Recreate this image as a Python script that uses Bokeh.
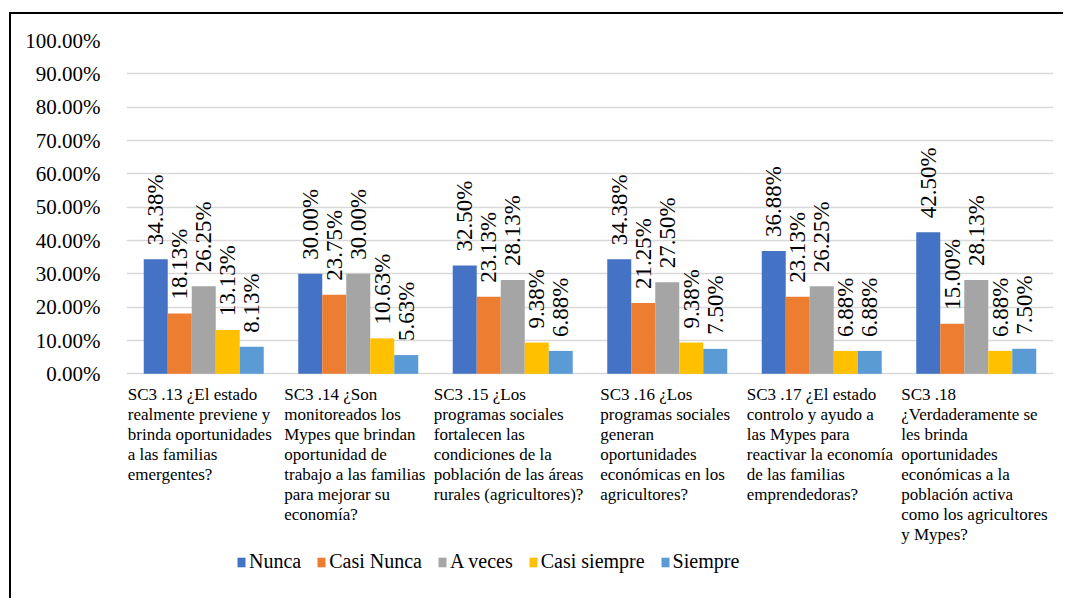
from bokeh.plotting import figure
from bokeh.models import Range1d, FixedTicker, PrintfTickFormatter, Label, LabelSet, ColumnDataSource, Legend, LegendItem
from bokeh.embed import file_html
from bokeh.resources import INLINE

categories = [
    "SC3 .13 ¿El estado\nrealmente previene y\nbrinda oportunidades\na las familias\nemergentes?",
    "SC3 .14 ¿Son\nmonitoreados los\nMypes que brindan\noportunidad de\ntrabajo a las familias\npara mejorar su\neconomía?",
    "SC3 .15 ¿Los\nprogramas sociales\nfortalecen las\ncondiciones de la\npoblación de las áreas\nrurales (agricultores)?",
    "SC3 .16 ¿Los\nprogramas sociales\ngeneran\noportunidades\neconómicas en los\nagricultores?",
    "SC3 .17 ¿El estado\ncontrolo y ayudo a\nlas Mypes para\nreactivar la economía\nde las familias\nemprendedoras?",
    "SC3 .18\n¿Verdaderamente se\nles brinda\noportunidades\neconómicas a la\npoblación activa\ncomo los agricultores\ny Mypes?",
]
series = ["Nunca", "Casi Nunca", "A veces", "Casi siempre", "Siempre"]
nunca = [34.38, 30.00, 32.50, 34.38, 36.88, 42.50]
casi_nunca = [18.13, 23.75, 23.13, 21.25, 23.13, 15.00]
a_veces = [26.25, 30.00, 28.13, 27.50, 26.25, 28.13]
casi_siempre = [13.13, 10.63, 9.38, 9.38, 6.88, 6.88]
siempre = [8.13, 5.63, 6.88, 7.50, 6.88, 7.50]
values = [nunca, casi_nunca, a_veces, casi_siempre, siempre]
y_ticks = [0, 10, 20, 30, 40, 50, 60, 70, 80, 90, 100]

colors = ["#4472C4", "#ED7D31", "#A5A5A5", "#FFC000", "#5B9BD5"]
FONT = "Liberation Serif"

# frame spans from the 100% line down to the bottom of the canvas;
# the area below 0 holds the category labels and the legend
p = figure(width=1054, height=586, output_backend="svg", toolbar_location=None,
           x_range=Range1d(0, len(categories)), y_range=Range1d(-68, 100),
           min_border_left=115, min_border_right=12, min_border_top=26, min_border_bottom=0)
p.styles = {"margin-top": "12px", "margin-left": "9px",
            "border-top": "2px solid black", "border-left": "2px solid black"}
p.outline_line_color = None
p.background_fill_color = "white"
p.border_fill_color = "white"

p.xaxis.visible = False
p.xgrid.visible = False
p.yaxis.ticker = FixedTicker(ticks=y_ticks)
p.yaxis.formatter = PrintfTickFormatter(format="%.2f%%")
p.yaxis.axis_line_color = None
p.yaxis.major_tick_line_color = None
p.yaxis.minor_tick_line_color = None
p.yaxis.major_label_standoff = 20
p.yaxis.major_label_text_font = FONT
p.yaxis.major_label_text_font_size = "21px"
p.yaxis.major_label_text_color = "black"
p.ygrid.ticker = FixedTicker(ticks=y_ticks)
p.ygrid.grid_line_color = "#D9D9D9"
p.ygrid.grid_line_width = 1.5

bw = 24 / 154.5
items = []
for k, (name, vals) in enumerate(zip(series, values)):
    xs = [i + 0.5 + (k - 2) * bw for i in range(len(categories))]
    src = ColumnDataSource(dict(x=xs, top=vals, lab=["%.2f%%" % v for v in vals]))
    r = p.vbar(x="x", top="top", width=bw, source=src, fill_color=colors[k], line_color=None)
    items.append(LegendItem(label=name, renderers=[r]))
    p.add_layout(LabelSet(x="x", y="top", text="lab", source=src, angle=90, angle_units="deg",
                          text_align="left", text_baseline="middle", y_offset=14,
                          text_font=FONT, text_font_size="23px", text_color="black"))

label_dx = [-76, -74, -79, -67, -75, -75]
for i, cat in enumerate(categories):
    for j, line in enumerate(cat.split("\n")):
        p.add_layout(Label(x=i + 0.5, y=0, x_offset=label_dx[i], y_offset=-(21 + 20 * j), text=line,
                           text_align="left", text_baseline="middle", text_font=FONT,
                           text_font_size="17px", text_color="black"))

legend = Legend(items=items, orientation="horizontal", location=(110, 27),
                label_text_font=FONT, label_text_font_size="20px", label_text_color="black",
                glyph_width=10, glyph_height=12, label_standoff=3, spacing=15,
                padding=0, margin=0, border_line_color=None, background_fill_alpha=0)
p.add_layout(legend)

open("out.html", "w").write(file_html(p, INLINE))
